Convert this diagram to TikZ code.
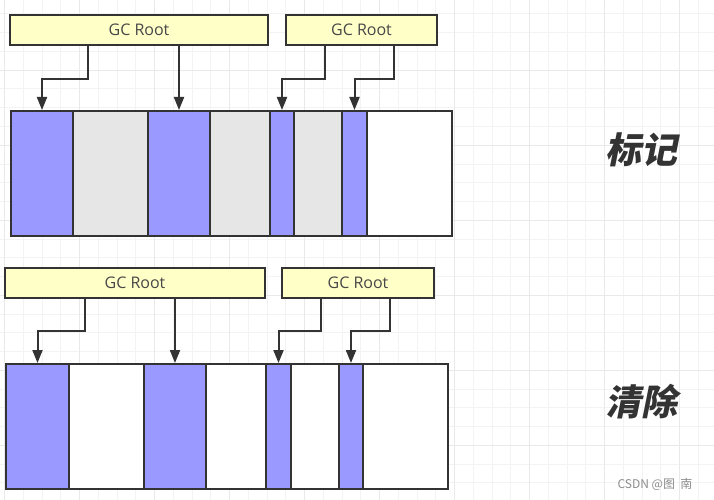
\documentclass[tikz,border=0pt]{standalone}
\usepackage{fontspec}
\usepackage{xcolor}
\usepackage{tikz}
\usetikzlibrary{arrows.meta}
\usetikzlibrary{calc}
\newfontfamily\rootfont{Open Sans}
\newfontfamily\cjk[FakeSlant=0.2]{Noto Sans CJK SC}
\newfontfamily\cjkplain{Noto Sans CJK SC}
\definecolor{linec}{HTML}{333333}
\definecolor{live}{HTML}{9999FF}
\definecolor{dead}{HTML}{E6E6E6}
\definecolor{rooty}{HTML}{FFFFC8}
\definecolor{gridmin}{HTML}{F3F3F3}
\definecolor{gridmaj}{HTML}{E9E9E9}

\begin{document}
\begin{tikzpicture}[x=1pt,y=-1pt,
  root/.style={draw=linec, fill=rooty, line width=2pt, minimum height=30pt, inner sep=0pt, text=linec!90, font=\rootfont\fontsize{16}{18}\selectfont},
  cell/.style={draw=linec, line width=2pt, minimum height=125pt, inner sep=0pt, anchor=north west},
  ref/.style={draw=linec, line width=2pt, -{Triangle[width=10pt,length=13pt]}},
  title/.style={text=linec, font=\cjk\bfseries\fontsize{36}{40}\selectfont}]
\useasboundingbox (0,0) rectangle (714,500);
\fill[white] (0,0) rectangle (714,500);
% background grid
\foreach \k in {0,...,38} {
  \draw[gridmin, line width=1pt] ({4.5+18.75*\k},0) -- ++(0,500);
}
\foreach \k in {0,...,27} {
  \draw[gridmin, line width=1pt] (0,{-4.75+18.75*\k}) -- ++(714,0);
}
\foreach \k in {0,...,9} {
  \draw[gridmaj, line width=1pt] ({4.5+75*\k},0) -- ++(0,500);
  \draw[gridmaj, line width=1pt] (0,{-4.75+75*\k}) -- ++(714,0);
}

% mark phase
\node[root, minimum width=258pt] (ra) at (139,30) {GC Root};
\node[root, minimum width=151pt] (rb) at (361.5,30) {GC Root};
\foreach \i/\x/\w/\c in {1/10/62/live, 2/72/75/dead, 3/147/62/live, 4/209/60/dead,
                         5/269/24/live, 6/293/48/dead, 7/341/25/live, 8/366/85/white}
  \node[cell, fill=\c, minimum width=\w pt] (m\i) at (\x,110) {};
\draw[ref] (ra.south -| 88,0) -- ++(0,33) -| (m1.north);
\draw[ref] (ra.south -| m3.north) -- (m3.north);
\draw[ref] (rb.south -| 325,0) -- ++(0,33) -| (m5.north);
\draw[ref] (rb.south -| 394,0) -- ++(0,33) -| (m7.north);
\node[title] (tm) at (641,150) {标记};

% sweep phase
\node[root, minimum width=260pt] (sa) at (135,283) {GC Root};
\node[root, minimum width=152pt] (sb) at (358,283) {GC Root};
\foreach \i/\x/\w/\c in {1/5/63/live, 2/68/75/white, 3/143/62/live, 4/205/60/white,
                         5/265/25/live, 6/290/48/white, 7/338/24/live, 8/362/85/white}
  \node[cell, fill=\c, minimum width=\w pt] (s\i) at (\x,363) {};
\draw[ref] (sa.south -| 85,0) -- ++(0,32) -| (s1.north);
\draw[ref] (sa.south -| s3.north) -- (s3.north);
\draw[ref] (sb.south -| 321,0) -- ++(0,32) -| (s5.north);
\draw[ref] (sb.south -| 390,0) -- ++(0,32) -| (s7.north);
\node[title] (ts) at (641,402) {清除};

\node[text=black!45, font=\cjkplain\fontsize{12}{14}\selectfont] (wm) at (655,484) {CSDN @图\ \ 南};
\end{tikzpicture}
\end{document}
